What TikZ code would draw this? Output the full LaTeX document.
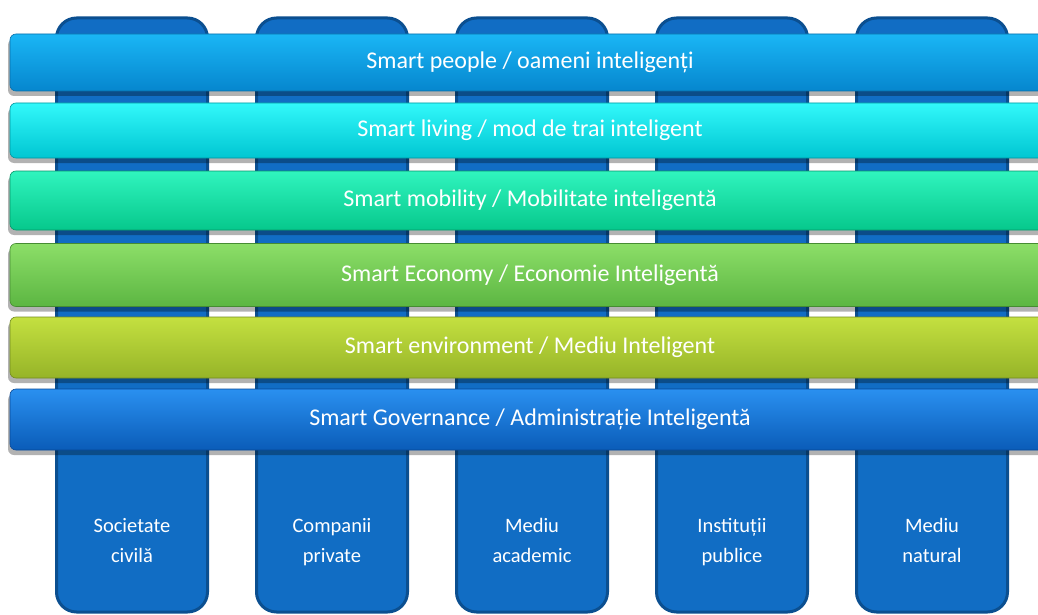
\documentclass[tikz,border=0pt]{standalone}
\usepackage{fontspec}
\setmainfont{Carlito}
\usetikzlibrary{shadows}
\definecolor{colfill}{HTML}{116DC4}
\definecolor{coldraw}{HTML}{0B4F90}
\newcommand{\twolines}[2]{\setlength{\tabcolsep}{0pt}\begin{tabular}[t]{c}#1\\#2\end{tabular}}
\tikzset{
  colbox/.style={draw=coldraw, fill=colfill, line width=3pt, rounded corners=20pt,
    minimum width=151pt, minimum height=594pt, anchor=north, inner sep=0pt},
  collabel/.style={text=white, anchor=base, font=\fontsize{20.5}{30.5}\selectfont, inner sep=0pt},
  barbox/.style={rounded corners=6pt, minimum width=1040pt, inner sep=0pt,
    text=white, font=\fontsize{24}{28}\selectfont, shading=axis,
    drop shadow={shadow xshift=-2pt, shadow yshift=-5pt, opacity=0.3, fill=black}},
}
\begin{document}
\begin{tikzpicture}[x=1pt,y=-1pt]
\useasboundingbox (0,0) rectangle (1038,615);
\clip (0,0) rectangle (1038,615);
\fill[white] (0,0) rectangle (1038,615);
% columns
\foreach \i/\cx in {1/132,2/332,3/532,4/732,5/932}{
  \node[colbox] (c\i) at (\cx,16.5) {};
}
\node[collabel] (t1) at (132,532) {\twolines{Societate}{civilă}};
\node[collabel] (t2) at (332,532) {\twolines{Companii}{private}};
\node[collabel] (t3) at (532,532) {\twolines{Mediu}{academic}};
\node[collabel] (t4) at (732,532) {\twolines{Instituții}{publice}};
\node[collabel] (t5) at (932,532) {\twolines{Mediu}{natural}};
% bars
\node[barbox, minimum height=57pt, top color={rgb,255:red,26;green,182;blue,245}, middle color={rgb,255:red,10;green,156;blue,226}, bottom color={rgb,255:red,6;green,134;blue,206}, draw={rgb,255:red,8;green,110;blue,170}, line width=0.6pt] (b1) at (530,62.5) {Smart people / oameni inteligenți};
\node[barbox, minimum height=55pt, top color={rgb,255:red,50;green,248;blue,250}, middle color={rgb,255:red,0;green,226;blue,232}, bottom color={rgb,255:red,0;green,198;blue,210}, draw={rgb,255:red,0;green,150;blue,160}, line width=0.6pt] (b2) at (530,130.5) {Smart living / mod de trai inteligent};
\node[barbox, minimum height=59pt, top color={rgb,255:red,48;green,244;blue,190}, middle color={rgb,255:red,10;green,224;blue,162}, bottom color={rgb,255:red,6;green,200;blue,140}, draw={rgb,255:red,6;green,150;blue,105}, line width=0.6pt] (b3) at (530,200.5) {Smart mobility / Mobilitate inteligentă};
\node[barbox, minimum height=63pt, top color={rgb,255:red,140;green,222;blue,104}, middle color={rgb,255:red,112;green,205;blue,82}, bottom color={rgb,255:red,92;green,182;blue,66}, draw={rgb,255:red,70;green,140;blue,50}, line width=0.6pt] (b4) at (530,275) {Smart Economy / Economie Inteligentă};
\node[barbox, minimum height=61pt, top color={rgb,255:red,196;green,224;blue,64}, middle color={rgb,255:red,170;green,202;blue,50}, bottom color={rgb,255:red,150;green,180;blue,40}, draw={rgb,255:red,115;green,140;blue,30}, line width=0.6pt] (b5) at (530,347.5) {Smart environment / Mediu Inteligent};
\node[barbox, minimum height=61pt, top color={rgb,255:red,42;green,144;blue,240}, middle color={rgb,255:red,17;green,112;blue,216}, bottom color={rgb,255:red,10;green,92;blue,184}, draw={rgb,255:red,8;green,72;blue,150}, line width=0.6pt] (b6) at (530,419.5) {Smart Governance / Administrație Inteligentă};
\end{tikzpicture}
\end{document}
